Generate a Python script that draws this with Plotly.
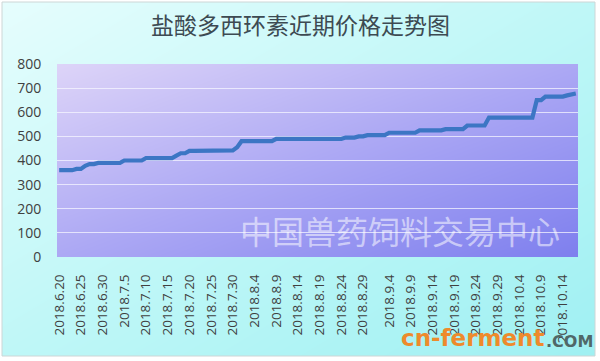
import plotly.graph_objects as go
from datetime import date, timedelta

# ---------------- data ----------------
title_text = "盐酸多西环素近期价格走势图"
watermark_text = "中国兽药饲料交易中心"

start_day = date(2018, 6, 20)
dates = [f"{d.year}.{d.month}.{d.day}" for d in (start_day + timedelta(days=i) for i in range(120))]

tick_labels = ["2018.6.20", "2018.6.25", "2018.6.30", "2018.7.5", "2018.7.10", "2018.7.15",
               "2018.7.20", "2018.7.25", "2018.7.30", "2018.8.4", "2018.8.9", "2018.8.14",
               "2018.8.19", "2018.8.24", "2018.8.29", "2018.9.4", "2018.9.9", "2018.9.14",
               "2018.9.19", "2018.9.24", "2018.9.29", "2018.10.4", "2018.10.9", "2018.10.14"]

prices = [
    360, 360, 360, 360, 365, 365, 378, 385, 385, 390,
    390, 390, 390, 390, 390, 400, 400, 400, 400, 400,
    410, 410, 410, 410, 410, 410, 410, 420, 430, 430,
    440, 440, 440, 440, 440, 440, 440, 442, 442, 442,
    442, 455, 480, 480, 480, 480, 480, 480, 480, 480,
    490, 490, 490, 490, 490, 490, 490, 490, 490, 490,
    490, 490, 490, 490, 490, 490, 495, 495, 495, 500,
    500, 505, 505, 505, 505, 505, 515, 515, 515, 515,
    515, 515, 515, 525, 525, 525, 525, 525, 525, 530,
    530, 530, 530, 530, 545, 545, 545, 545, 545, 578,
    578, 578, 578, 578, 578, 578, 578, 578, 578, 578,
    650, 650, 665, 665, 665, 665, 665, 670, 672, 678,
]

y_ticks = [0, 100, 200, 300, 400, 500, 600, 700, 800]

# ---------------- geometry helpers ----------------
W, H = 600, 361
def px(x):
    return x / W
def py(y):
    return 1 - y / H

plot_x = [px(57), px(578)]
plot_y = [py(257), py(64)]

fig = go.Figure()

# background gradient of the chart box (diagonal)
fig.add_trace(go.Heatmap(
    x=[0, 1], y=[0, 1], z=[[0.5, 1.0], [0.0, 0.5]],
    colorscale=[[0, "#e6fdfd"], [0.5, "#bff7f7"], [1, "#9ff0f2"]],
    zsmooth="best", showscale=False, hoverinfo="skip",
    xaxis="x", yaxis="y",
))

# plot-area gradient (diagonal)
fig.add_trace(go.Heatmap(
    x=[0, 1], y=[0, 1], z=[[0.5, 1.0], [0.0, 0.5]],
    colorscale=[[0, "#ddd4f8"], [0.5, "#aca8f4"], [1, "#7e7fee"]],
    zsmooth="best", showscale=False, hoverinfo="skip",
    xaxis="x2", yaxis="y2",
))

# price line
fig.add_trace(go.Scatter(
    x=dates, y=prices, mode="lines",
    line=dict(color="#3c76c4", width=4.2),
    xaxis="x3", yaxis="y3", hoverinfo="x+y",
))

y_font = dict(family="Open Sans, Liberation Sans, sans-serif", size=14, color="#404040")
x_font = dict(family="Open Sans, Liberation Sans, sans-serif", size=13.5, color="#404040")

fig.update_layout(
    width=W, height=H,
    margin=dict(l=0, r=0, t=0, b=0),
    paper_bgcolor="white",
    plot_bgcolor="rgba(0,0,0,0)",
    showlegend=False,
    xaxis=dict(domain=[px(2), px(595)], range=[0, 1], visible=False, fixedrange=True, automargin=False),
    yaxis=dict(domain=[py(356), py(2)], range=[0, 1], visible=False, fixedrange=True, automargin=False),
    xaxis2=dict(domain=plot_x, range=[0, 1], visible=False, anchor="y2", fixedrange=True, automargin=False),
    yaxis2=dict(domain=plot_y, range=[0, 1], visible=False, anchor="x2", fixedrange=True, automargin=False),
    xaxis3=dict(
        domain=plot_x, anchor="y3", type="category",
        categoryorder="array", categoryarray=dates,
        range=[-0.5, len(dates) - 0.5],
        tickmode="array", tickvals=tick_labels, ticktext=tick_labels,
        tickangle=-90, tickfont=x_font,
        ticks="outside", ticklen=11, tickcolor="rgba(0,0,0,0)",
        showgrid=False, zeroline=False, showline=False, automargin=False,
    ),
    yaxis3=dict(
        domain=plot_y, anchor="x3", range=[0, 800],
        tickmode="array", tickvals=y_ticks,
        tickfont=y_font,
        ticks="outside", ticklen=12, tickcolor="rgba(0,0,0,0)",
        showgrid=True, gridcolor="rgba(245,245,255,0.75)", gridwidth=1,
        zeroline=False, showline=False, automargin=False,
    ),
    shapes=[
        dict(type="rect", xref="paper", yref="paper",
             x0=px(2), x1=px(595), y0=py(356), y1=py(2),
             line=dict(color="#cdd6d6", width=1), fillcolor="rgba(0,0,0,0)", layer="above"),
    ],
    annotations=[
        dict(text=title_text, xref="paper", yref="paper", x=0.5, y=py(24),
             xanchor="center", yanchor="middle", showarrow=False,
             font=dict(family="Noto Sans CJK SC", size=23, color="#3d4a52")),
        dict(text=watermark_text, xref="paper", yref="paper", x=px(400), y=py(230),
             xanchor="center", yanchor="middle", showarrow=False,
             font=dict(family="Noto Sans CJK SC", size=32, color="rgba(255,255,255,0.55)")),
        dict(text="<b>cn-ferment</b>", xref="paper", yref="paper", x=px(546), y=py(338),
             xanchor="right", yanchor="middle", showarrow=False,
             font=dict(family="DejaVu Sans", size=23, color="#ee8a2c")),
        dict(text="<b>.COM</b>", xref="paper", yref="paper", x=px(544), y=py(341),
             xanchor="left", yanchor="middle", showarrow=False,
             font=dict(family="DejaVu Sans", size=16, color="#506868")),
    ],
)

fig.write_html("out.html")
